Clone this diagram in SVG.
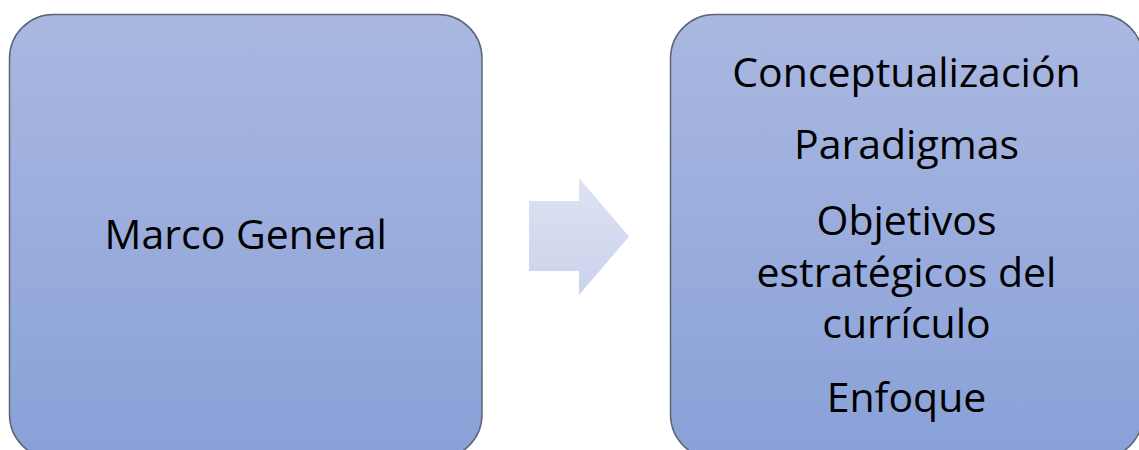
<svg xmlns="http://www.w3.org/2000/svg" width="1139" height="450" viewBox="0 0 1139 450">
  <defs>
    <linearGradient id="boxGrad" x1="0" y1="0" x2="0" y2="1">
      <stop offset="0" stop-color="#AAB8E1"/>
      <stop offset="1" stop-color="#89A1D8"/>
    </linearGradient>
    <linearGradient id="arrowGrad" x1="0" y1="0" x2="0" y2="1">
      <stop offset="0" stop-color="#DEE2F2"/>
      <stop offset="1" stop-color="#CAD2EC"/>
    </linearGradient>
  </defs>
  <style>
    .box { fill: url(#boxGrad); stroke: #5E6577; stroke-width: 1.5; }
    .lbl { font-family: "Open Sans", "Noto Sans", "Liberation Sans", sans-serif; font-size: 41px; fill: #000000; text-anchor: middle; }
    .arrow { fill: url(#arrowGrad); stroke: none; }
  </style>
  <rect width="1139" height="450" fill="#FFFFFF"/>
  <g id="node-marco-general">
    <rect class="box" x="9.5" y="14.5" width="472.5" height="444" rx="44" ry="44"/>
    <text class="lbl" x="245.75" y="249">Marco General</text>
  </g>
  <g id="connectors">
    <polygon class="arrow" points="529,201 579,201 579,178 629,236.5 579,295 579,271 529,271"/>
  </g>
  <g id="node-contenido">
    <rect class="box" x="670.5" y="14.5" width="472.5" height="444" rx="44" ry="44"/>
    <text class="lbl" x="906.5" y="87">Conceptualización</text>
    <text class="lbl" x="906.5" y="159">Paradigmas</text>
    <text class="lbl" x="906.5" y="235">Objetivos</text>
    <text class="lbl" x="906.5" y="287">estratégicos del</text>
    <text class="lbl" x="906.5" y="338">currículo</text>
    <text class="lbl" x="906.5" y="412">Enfoque</text>
  </g>
</svg>
